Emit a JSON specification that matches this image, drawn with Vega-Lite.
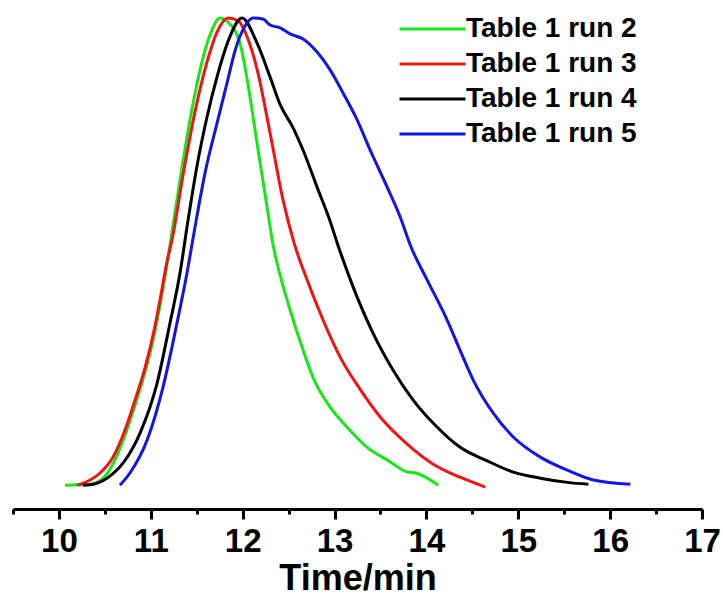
{
  "$schema": "https://vega.github.io/schema/vega-lite/v6.json",
  "width": 689,
  "height": 491,
  "autosize": {"type": "none"},
  "padding": {"left": 13, "top": 18, "right": 21, "bottom": 95},
  "background": "white",
  "config": {"view": {"stroke": null}, "font": "Liberation Sans"},
  "data": {"values": [
    {"run": "Table 1 run 2", "t": 10.065, "v": 0},
    {"run": "Table 1 run 2", "t": 10.338, "v": 0.002},
    {"run": "Table 1 run 2", "t": 10.501, "v": 0.019},
    {"run": "Table 1 run 2", "t": 10.610, "v": 0.054},
    {"run": "Table 1 run 2", "t": 10.719, "v": 0.107},
    {"run": "Table 1 run 2", "t": 10.828, "v": 0.171},
    {"run": "Table 1 run 2", "t": 10.937, "v": 0.242},
    {"run": "Table 1 run 2", "t": 11.024, "v": 0.310},
    {"run": "Table 1 run 2", "t": 11.100, "v": 0.385},
    {"run": "Table 1 run 2", "t": 11.166, "v": 0.460},
    {"run": "Table 1 run 2", "t": 11.209, "v": 0.514},
    {"run": "Table 1 run 2", "t": 11.318, "v": 0.653},
    {"run": "Table 1 run 2", "t": 11.427, "v": 0.782},
    {"run": "Table 1 run 2", "t": 11.536, "v": 0.889},
    {"run": "Table 1 run 2", "t": 11.645, "v": 0.964},
    {"run": "Table 1 run 2", "t": 11.754, "v": 1.0},
    {"run": "Table 1 run 2", "t": 11.841, "v": 0.991},
    {"run": "Table 1 run 2", "t": 11.972, "v": 0.945},
    {"run": "Table 1 run 2", "t": 12.081, "v": 0.830},
    {"run": "Table 1 run 2", "t": 12.168, "v": 0.717},
    {"run": "Table 1 run 2", "t": 12.266, "v": 0.595},
    {"run": "Table 1 run 2", "t": 12.331, "v": 0.514},
    {"run": "Table 1 run 2", "t": 12.407, "v": 0.450},
    {"run": "Table 1 run 2", "t": 12.516, "v": 0.375},
    {"run": "Table 1 run 2", "t": 12.658, "v": 0.289},
    {"run": "Table 1 run 2", "t": 12.767, "v": 0.230},
    {"run": "Table 1 run 2", "t": 12.952, "v": 0.167},
    {"run": "Table 1 run 2", "t": 13.137, "v": 0.124},
    {"run": "Table 1 run 2", "t": 13.355, "v": 0.081},
    {"run": "Table 1 run 2", "t": 13.573, "v": 0.054},
    {"run": "Table 1 run 2", "t": 13.80, "v": 0.028},
    {"run": "Table 1 run 2", "t": 13.86, "v": 0.027},
    {"run": "Table 1 run 2", "t": 14.129, "v": 0},

    {"run": "Table 1 run 3", "t": 10.196, "v": 0},
    {"run": "Table 1 run 3", "t": 10.261, "v": 0.004},
    {"run": "Table 1 run 3", "t": 10.447, "v": 0.026},
    {"run": "Table 1 run 3", "t": 10.588, "v": 0.060},
    {"run": "Table 1 run 3", "t": 10.719, "v": 0.118},
    {"run": "Table 1 run 3", "t": 10.828, "v": 0.182},
    {"run": "Table 1 run 3", "t": 10.937, "v": 0.251},
    {"run": "Table 1 run 3", "t": 11.024, "v": 0.321},
    {"run": "Table 1 run 3", "t": 11.100, "v": 0.396},
    {"run": "Table 1 run 3", "t": 11.176, "v": 0.478},
    {"run": "Table 1 run 3", "t": 11.231, "v": 0.525},
    {"run": "Table 1 run 3", "t": 11.351, "v": 0.664},
    {"run": "Table 1 run 3", "t": 11.481, "v": 0.799},
    {"run": "Table 1 run 3", "t": 11.612, "v": 0.906},
    {"run": "Table 1 run 3", "t": 11.721, "v": 0.970},
    {"run": "Table 1 run 3", "t": 11.841, "v": 1.0},
    {"run": "Table 1 run 3", "t": 11.950, "v": 0.994},
    {"run": "Table 1 run 3", "t": 12.048, "v": 0.960},
    {"run": "Table 1 run 3", "t": 12.157, "v": 0.890},
    {"run": "Table 1 run 3", "t": 12.298, "v": 0.754},
    {"run": "Table 1 run 3", "t": 12.440, "v": 0.610},
    {"run": "Table 1 run 3", "t": 12.560, "v": 0.518},
    {"run": "Table 1 run 3", "t": 12.702, "v": 0.439},
    {"run": "Table 1 run 3", "t": 12.876, "v": 0.353},
    {"run": "Table 1 run 3", "t": 13.061, "v": 0.274},
    {"run": "Table 1 run 3", "t": 13.279, "v": 0.205},
    {"run": "Table 1 run 3", "t": 13.497, "v": 0.146},
    {"run": "Table 1 run 3", "t": 13.791, "v": 0.088},
    {"run": "Table 1 run 3", "t": 14.074, "v": 0.045},
    {"run": "Table 1 run 3", "t": 14.368, "v": 0.017},
    {"run": "Table 1 run 3", "t": 14.641, "v": -0.004},

    {"run": "Table 1 run 4", "t": 10.261, "v": 0},
    {"run": "Table 1 run 4", "t": 10.338, "v": 0.001},
    {"run": "Table 1 run 4", "t": 10.523, "v": 0.015},
    {"run": "Table 1 run 4", "t": 10.697, "v": 0.047},
    {"run": "Table 1 run 4", "t": 10.882, "v": 0.111},
    {"run": "Table 1 run 4", "t": 11.068, "v": 0.218},
    {"run": "Table 1 run 4", "t": 11.209, "v": 0.347},
    {"run": "Table 1 run 4", "t": 11.318, "v": 0.454},
    {"run": "Table 1 run 4", "t": 11.400, "v": 0.560},
    {"run": "Table 1 run 4", "t": 11.500, "v": 0.680},
    {"run": "Table 1 run 4", "t": 11.612, "v": 0.788},
    {"run": "Table 1 run 4", "t": 11.721, "v": 0.874},
    {"run": "Table 1 run 4", "t": 11.841, "v": 0.950},
    {"run": "Table 1 run 4", "t": 11.993, "v": 1.0},
    {"run": "Table 1 run 4", "t": 12.157, "v": 0.946},
    {"run": "Table 1 run 4", "t": 12.298, "v": 0.874},
    {"run": "Table 1 run 4", "t": 12.407, "v": 0.815},
    {"run": "Table 1 run 4", "t": 12.549, "v": 0.765},
    {"run": "Table 1 run 4", "t": 12.658, "v": 0.717},
    {"run": "Table 1 run 4", "t": 12.810, "v": 0.638},
    {"run": "Table 1 run 4", "t": 12.952, "v": 0.565},
    {"run": "Table 1 run 4", "t": 13.030, "v": 0.518},
    {"run": "Table 1 run 4", "t": 13.203, "v": 0.424},
    {"run": "Table 1 run 4", "t": 13.420, "v": 0.325},
    {"run": "Table 1 run 4", "t": 13.638, "v": 0.246},
    {"run": "Table 1 run 4", "t": 13.856, "v": 0.182},
    {"run": "Table 1 run 4", "t": 14.118, "v": 0.124},
    {"run": "Table 1 run 4", "t": 14.368, "v": 0.081},
    {"run": "Table 1 run 4", "t": 14.662, "v": 0.052},
    {"run": "Table 1 run 4", "t": 14.946, "v": 0.028},
    {"run": "Table 1 run 4", "t": 15.240, "v": 0.015},
    {"run": "Table 1 run 4", "t": 15.534, "v": 0.006},
    {"run": "Table 1 run 4", "t": 15.763, "v": 0.002},

    {"run": "Table 1 run 5", "t": 10.664, "v": 0},
    {"run": "Table 1 run 5", "t": 10.773, "v": 0.026},
    {"run": "Table 1 run 5", "t": 10.959, "v": 0.096},
    {"run": "Table 1 run 5", "t": 11.133, "v": 0.210},
    {"run": "Table 1 run 5", "t": 11.285, "v": 0.347},
    {"run": "Table 1 run 5", "t": 11.394, "v": 0.454},
    {"run": "Table 1 run 5", "t": 11.470, "v": 0.540},
    {"run": "Table 1 run 5", "t": 11.590, "v": 0.668},
    {"run": "Table 1 run 5", "t": 11.721, "v": 0.775},
    {"run": "Table 1 run 5", "t": 11.830, "v": 0.861},
    {"run": "Table 1 run 5", "t": 11.917, "v": 0.930},
    {"run": "Table 1 run 5", "t": 12.004, "v": 0.975},
    {"run": "Table 1 run 5", "t": 12.113, "v": 1.0},
    {"run": "Table 1 run 5", "t": 12.222, "v": 0.998},
    {"run": "Table 1 run 5", "t": 12.298, "v": 0.985},
    {"run": "Table 1 run 5", "t": 12.407, "v": 0.979},
    {"run": "Table 1 run 5", "t": 12.516, "v": 0.966},
    {"run": "Table 1 run 5", "t": 12.658, "v": 0.955},
    {"run": "Table 1 run 5", "t": 12.810, "v": 0.927},
    {"run": "Table 1 run 5", "t": 12.952, "v": 0.889},
    {"run": "Table 1 run 5", "t": 13.094, "v": 0.839},
    {"run": "Table 1 run 5", "t": 13.246, "v": 0.782},
    {"run": "Table 1 run 5", "t": 13.388, "v": 0.717},
    {"run": "Table 1 run 5", "t": 13.573, "v": 0.638},
    {"run": "Table 1 run 5", "t": 13.715, "v": 0.574},
    {"run": "Table 1 run 5", "t": 13.824, "v": 0.514},
    {"run": "Table 1 run 5", "t": 14.009, "v": 0.439},
    {"run": "Table 1 run 5", "t": 14.227, "v": 0.353},
    {"run": "Table 1 run 5", "t": 14.368, "v": 0.288},
    {"run": "Table 1 run 5", "t": 14.510, "v": 0.225},
    {"run": "Table 1 run 5", "t": 14.728, "v": 0.154},
    {"run": "Table 1 run 5", "t": 14.946, "v": 0.103},
    {"run": "Table 1 run 5", "t": 15.240, "v": 0.060},
    {"run": "Table 1 run 5", "t": 15.534, "v": 0.032},
    {"run": "Table 1 run 5", "t": 15.817, "v": 0.011},
    {"run": "Table 1 run 5", "t": 16.220, "v": 0.002}
  ]},
  "mark": {"type": "line", "strokeWidth": 3, "interpolate": "monotone", "clip": false},
  "encoding": {
    "x": {
      "field": "t", "type": "quantitative",
      "scale": {"domain": [9.5, 17], "nice": false, "zero": false},
      "axis": {
        "values": [9.5, 10, 10.5, 11, 11.5, 12, 12.5, 13, 13.5, 14, 14.5, 15, 15.5, 16, 16.5, 17],
        "labelExpr": "datum.value % 1 === 0 ? format(datum.value, 'd') : ''",
        "grid": false,
        "domainColor": "black", "domainWidth": 3,
        "tickColor": "black", "tickWidth": 3,
        "tickSize": {"condition": {"test": "datum.value % 1 === 0", "value": 10}, "value": 5},
        "labelFont": "Liberation Sans", "labelFontWeight": "bold", "labelFontSize": 33,
        "labelColor": "black", "labelPadding": 6, "labelFlush": false,
        "title": "Time/min", "titleFont": "Liberation Sans", "titleFontWeight": "bold",
        "titleFontSize": 36, "titleColor": "black", "titlePadding": 3
      }
    },
    "y": {
      "field": "v", "type": "quantitative",
      "scale": {"domain": [-0.051, 1.0], "nice": false, "zero": false},
      "axis": null
    },
    "color": {
      "field": "run", "type": "nominal",
      "scale": {
        "domain": ["Table 1 run 2", "Table 1 run 3", "Table 1 run 4", "Table 1 run 5"],
        "range": ["#18e618", "#f01414", "#000000", "#1414e6"]
      },
      "legend": {
        "title": null,
        "orient": "none",
        "legendX": 385,
        "legendY": -6.5,
        "clipHeight": 35,
        "symbolType": "stroke",
        "symbolSize": 4356,
        "symbolStrokeWidth": 3,
        "symbolOffset": 0,
        "labelFont": "Liberation Sans",
        "labelFontWeight": "bold",
        "labelFontSize": 28,
        "labelColor": "black",
        "labelOffset": -1,
        "rowPadding": 0,
        "labelLimit": 400
      }
    }
  }
}
